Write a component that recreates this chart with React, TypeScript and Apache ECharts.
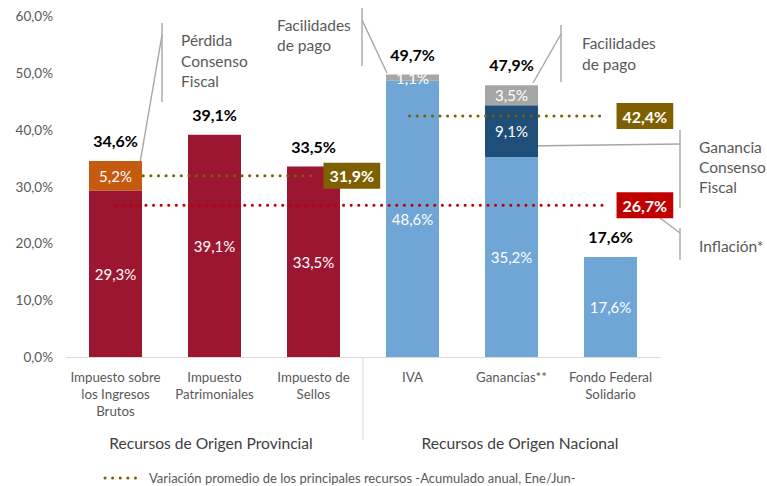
import React, { useEffect, useRef } from "react";
import * as echarts from "echarts";

const categories = [
  "Impuesto sobre\nlos Ingresos\nBrutos",
  "Impuesto\nPatrimoniales",
  "Impuesto de\nSellos",
  "IVA",
  "Ganancias**",
  "Fondo Federal\nSolidario",
];
const baseValues = [29.3, 39.1, 33.5, 48.6, 35.2, 17.6];
const consensoValues = [5.2, null, null, null, 9.1, null];
const facilidadesValues = [null, null, null, 1.1, 3.5, null];
const totalValues = [34.6, 39.1, 33.5, 49.7, 47.9, 17.6];
const inflacion = 26.7;
const promedioProvincial = 31.9;
const promedioNacional = 42.4;
const groupLabels = ["Recursos de Origen Provincial", "Recursos de Origen Nacional"];
const legendName = "Variación promedio de los principales recursos -Acumulado anual, Ene/Jun-";

const FONT = "Lato, 'Open Sans', sans-serif";
const RED = "#9C1631";
const ORANGE = "#C55A11";
const BLUE = "#6FA6D6";
const DARKBLUE = "#1F4E79";
const GRAY = "#A6A6A6";
const BROWN = "#7F6000";
const INFL = "#C00000";
const LEADER = "#A6A6A6";

const fmt = (v: number) => v.toFixed(1).replace(".", ",") + "%";

export default function App() {
  const ref = useRef<HTMLDivElement>(null);
  useEffect(() => {
    if (!ref.current) return;
    document.body.style.margin = "0";
    const chart = echarts.init(ref.current, null, { renderer: "svg" });

    const baseColors = baseValues.map((_, i) => (i < 3 ? RED : BLUE));
    const consensoColors = consensoValues.map((_, i) => (i < 3 ? ORANGE : DARKBLUE));

    const innerLabel = {
      show: true,
      position: "inside",
      color: "#fff",
      fontSize: 15,
      fontFamily: FONT,
      formatter: (p: any) => fmt(p.value),
    };

    const dotted = (color: string) => ({
      color,
      width: 3,
      type: [0.1, 7.5],
      cap: "round",
    });

    const boxLabel = (bg: string) => ({
      show: true,
      formatter: (p: any) => fmt(p.value[1]),
      backgroundColor: bg,
      color: "#fff",
      fontWeight: "bold",
      fontSize: 16,
      fontFamily: FONT,
      padding: [4, 6, 3, 6],
      lineHeight: 19,
      distance: 10,
    });

    const leader = (x1: number, y1: number, x2: number, y2: number) => ({
      type: "line",
      shape: { x1, y1, x2, y2 },
      style: { stroke: LEADER, lineWidth: 1.4 },
      silent: true,
    });
    const note = (x: number, y: number, text: string, lh = 20.5) => ({
      type: "text",
      x,
      y,
      style: {
        text,
        fill: "#595959",
        fontSize: 15.5,
        fontFamily: FONT,
        lineHeight: lh,
        verticalAlign: "top",
        align: "left",
      },
      silent: true,
    });

    chart.setOption({
      animation: false,
      grid: { left: 66, right: 107, top: 16, bottom: 129, containLabel: false },
      xAxis: [
        {
          type: "category",
          data: categories,
          axisLine: { lineStyle: { color: "#D9D9D9", width: 1 } },
          axisTick: { show: false },
          axisLabel: {
            color: "#595959",
            fontSize: 13.3,
            fontFamily: FONT,
            lineHeight: 17,
            margin: 11,
            interval: 0,
          },
        },
        { type: "value", min: 0, max: 6, show: false },
      ],
      yAxis: {
        type: "value",
        min: 0,
        max: 60,
        interval: 10,
        splitLine: { show: false },
        axisLine: { show: false },
        axisTick: { show: false },
        axisLabel: {
          color: "#595959",
          fontSize: 13.5,
          fontFamily: FONT,
          margin: 13,
          formatter: (v: number) => fmt(v),
        },
      },
      series: [
        {
          type: "bar",
          stack: "t",
          barWidth: 53,
          barGap: "-100%",
          data: baseValues.map((v, i) => ({ value: v, itemStyle: { color: baseColors[i] } })),
          label: innerLabel,
        },
        {
          type: "bar",
          stack: "t",
          barWidth: 53,
          barGap: "-100%",
          data: consensoValues.map((v, i) => ({ value: v, itemStyle: { color: consensoColors[i] } })),
          label: innerLabel,
        },
        {
          type: "bar",
          stack: "t",
          barWidth: 53,
          barGap: "-100%",
          data: facilidadesValues,
          itemStyle: { color: GRAY },
          label: innerLabel,
        },
        {
          type: "bar",
          barWidth: 53,
          barGap: "-100%",
          data: totalValues,
          itemStyle: { color: "transparent" },
          silent: true,
          z: 1,
          label: {
            show: true,
            position: "top",
            distance: 12,
            color: "#000",
            fontWeight: "bold",
            fontSize: 16,
            fontFamily: FONT,
            formatter: (p: any) => fmt(p.value),
          },
        },
        {
          type: "line",
          name: "inflacion",
          xAxisIndex: 1,
          symbol: "none",
          z: 5,
          lineStyle: dotted(INFL),
          data: [
            [0.5, inflacion],
            [5.46, inflacion],
          ],
          endLabel: boxLabel(INFL),
        },
        {
          type: "line",
          name: legendName,
          xAxisIndex: 1,
          symbol: "none",
          z: 5,
          lineStyle: dotted(BROWN),
          data: [
            [0.78, promedioProvincial],
            [2.5, promedioProvincial],
          ],
          endLabel: boxLabel(BROWN),
        },
        {
          type: "line",
          name: legendName,
          xAxisIndex: 1,
          symbol: "none",
          z: 5,
          lineStyle: dotted(BROWN),
          data: [
            [3.47, promedioNacional],
            [5.46, promedioNacional],
          ],
          endLabel: boxLabel(BROWN),
        },
      ],
      graphic: [
        { type: "line", shape: { x1: 363, y1: 358, x2: 363, y2: 440 }, style: { stroke: "#D9D9D9", lineWidth: 1 }, silent: true },
        {
          type: "text",
          x: 211,
          y: 443,
          style: { text: groupLabels[0], fill: "#404040", fontSize: 15.6, fontFamily: FONT, align: "center", verticalAlign: "middle" },
          silent: true,
        },
        {
          type: "text",
          x: 520,
          y: 443,
          style: { text: groupLabels[1], fill: "#404040", fontSize: 15.6, fontFamily: FONT, align: "center", verticalAlign: "middle" },
          silent: true,
        },
        // legend
        {
          type: "line",
          shape: { x1: 105, y1: 478, x2: 143, y2: 478 },
          style: { stroke: BROWN, lineWidth: 3, lineDash: [0.1, 7.5], lineCap: "round" },
          silent: true,
        },
        {
          type: "text",
          x: 149,
          y: 478,
          style: { text: legendName, fill: "#595959", fontSize: 13, fontFamily: FONT, align: "left", verticalAlign: "middle" },
          silent: true,
        },
        // Pérdida Consenso Fiscal
        leader(140, 163, 162, 35),
        leader(162, 23, 162, 102),
        note(181, 30, "Pérdida\nConsenso\nFiscal"),
        // Facilidades de pago (IVA)
        leader(362, 8, 362, 66),
        leader(362, 20, 387, 73),
        note(277, 15, "Facilidades\nde pago", 20),
        // Facilidades de pago (Ganancias)
        leader(561, 25, 561, 82),
        leader(561, 34, 533, 83),
        note(582, 32, "Facilidades\nde pago", 21),
        // Ganancia Consenso Fiscal
        leader(526, 146, 680, 144),
        leader(680, 130, 680, 208),
        note(699, 137, "Ganancia\nConsenso\nFiscal", 20),
        // Inflación
        leader(660, 218, 680, 233),
        leader(680, 228, 680, 260),
        note(699, 236, "Inflación*", 20),
      ],
    } as any);

    return () => chart.dispose();
  }, []);

  return <div ref={ref} style={{ width: 767, height: 486 }} />;
}
